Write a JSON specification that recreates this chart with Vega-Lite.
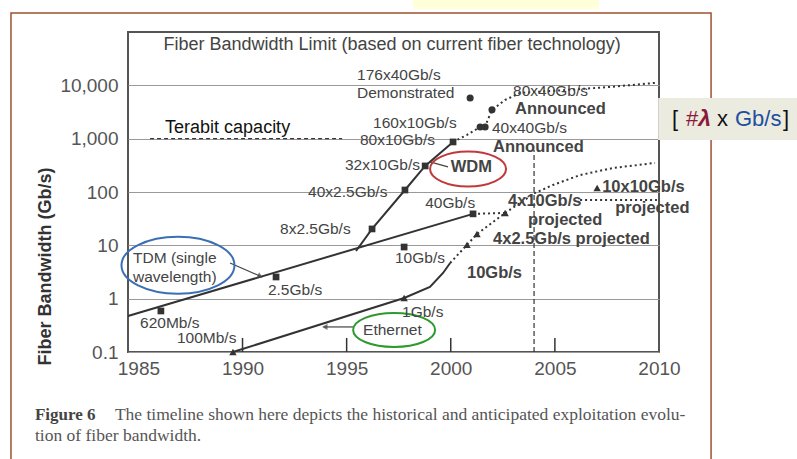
{
  "$schema": "https://vega.github.io/schema/vega-lite/v6.json",
  "width": 531,
  "height": 320,
  "autosize": {"type": "none"},
  "padding": {"left": 128, "top": 32, "right": 138, "bottom": 107},
  "background": "white",
  "config": {
    "view": {"stroke": "#555", "strokeWidth": 2},
    "font": "Liberation Sans"
  },
  "datasets": {
    "frame": [{"year": 1978.88, "year2": 2012.5, "value": 227500, "value2": 0.0005}],
    "yellow": [{"year": 1998.19, "year2": 2007.12, "value": 600000, "value2": 270400}],
    "box": [{"year": 2009.96, "year2": 2017.5, "value": 5800, "value2": 946}],
    "lines": [
      {"series": "tdm", "year": 1984.5, "value": 0.474},
      {"series": "tdm", "year": 2001.07, "value": 38.9},
      {"series": "wdm", "year": 1995.45, "value": 7.84},
      {"series": "wdm", "year": 1996.22, "value": 20.3},
      {"series": "wdm", "year": 1997.8, "value": 109},
      {"series": "wdm", "year": 1998.77, "value": 308},
      {"series": "wdm", "year": 2000.11, "value": 868},
      {"series": "eth", "year": 1989.54, "value": 0.1},
      {"series": "eth", "year": 1997.76, "value": 1.03},
      {"series": "eth", "year": 1999.0, "value": 1.66},
      {"series": "eth", "year": 1999.63, "value": 3.03},
      {"series": "eth", "year": 1999.97, "value": 4.67}
    ],
    "pointers": [
      {"series": "tdm_arrow", "year": 1989.4, "value": 4.67},
      {"series": "tdm_arrow", "year": 1990.94, "value": 2.55},
      {"series": "eth_arrow", "year": 1995.31, "value": 0.295},
      {"series": "eth_arrow", "year": 1993.9, "value": 0.295},
      {"series": "wdm_conn", "year": 1999.0, "value": 366},
      {"series": "wdm_conn", "year": 1999.87, "value": 295}
    ],
    "dotted": [
      {"series": "eth", "year": 1999.97, "value": 4.67},
      {"series": "eth", "year": 2000.78, "value": 10.2},
      {"series": "eth", "year": 2001.26, "value": 16.3},
      {"series": "eth", "year": 2002.61, "value": 40.5},
      {"series": "tdm", "year": 2001.07, "value": 38.9},
      {"series": "tdm", "year": 2002.61, "value": 40.5},
      {"series": "proj", "year": 2002.61, "value": 40.5},
      {"series": "proj", "year": 2003.33, "value": 62.3},
      {"series": "proj", "year": 2004.05, "value": 96},
      {"series": "proj", "year": 2004.91, "value": 135.6},
      {"series": "proj", "year": 2006.21, "value": 208},
      {"series": "proj", "year": 2007.8, "value": 282},
      {"series": "proj", "year": 2009.81, "value": 351},
      {"series": "proj2", "year": 2006.21, "value": 71},
      {"series": "proj2", "year": 2009.9, "value": 71},
      {"series": "wdm", "year": 2000.11, "value": 868},
      {"series": "wdm", "year": 2000.78, "value": 1175},
      {"series": "wdm", "year": 2001.41, "value": 1660},
      {"series": "wdm", "year": 2001.65, "value": 1700},
      {"series": "wdm", "year": 2001.98, "value": 3467},
      {"series": "wdm", "year": 2002.61, "value": 5320},
      {"series": "wdm", "year": 2003.33, "value": 7200},
      {"series": "wdm", "year": 2005.59, "value": 8200},
      {"series": "wdm", "year": 2007.65, "value": 9330},
      {"series": "wdm", "year": 2009.81, "value": 11100}
    ],
    "squares": [
      {"year": 1986.08, "value": 0.588},
      {"year": 1991.61, "value": 2.55},
      {"year": 1997.76, "value": 9.3},
      {"year": 2001.07, "value": 38.9},
      {"year": 1996.22, "value": 20.3},
      {"year": 1997.8, "value": 109},
      {"year": 1998.77, "value": 308},
      {"year": 2000.11, "value": 868}
    ],
    "triangles": [
      {"year": 1989.54, "value": 0.1},
      {"year": 1997.76, "value": 1.03},
      {"year": 2000.78, "value": 10.2},
      {"year": 2001.26, "value": 16.3},
      {"year": 2002.61, "value": 40.5},
      {"year": 2007.03, "value": 119}
    ],
    "circles": [
      {"year": 2000.93, "value": 5800},
      {"year": 2001.41, "value": 1660},
      {"year": 2001.65, "value": 1660},
      {"year": 2001.98, "value": 3467}
    ],
    "ticks": [
      {"year": 1990, "value": 0.1, "value2": 0.183},
      {"year": 1995, "value": 0.1, "value2": 0.183},
      {"year": 2000, "value": 0.1, "value2": 0.183},
      {"year": 2005, "value": 0.1, "value2": 0.183}
    ],
    "vline": [{"year": 2004.0, "value": 0.1, "value2": 614}],
    "terabit": [{"year": 1985.56, "year2": 1994.78, "value": 1000}],
    "labels": [
      {"text": "176x40Gb/s", "year": 1995.5, "value": 15670},
      {"text": "Demonstrated", "year": 1995.5, "value": 7194},
      {"text": "160x10Gb/s", "year": 1996.27, "value": 1971},
      {"text": "80x10Gb/s", "year": 1995.64, "value": 946},
      {"text": "32x10Gb/s", "year": 1994.92, "value": 321},
      {"text": "40x2.5Gb/s", "year": 1993.15, "value": 100},
      {"text": "8x2.5Gb/s", "year": 1991.8, "value": 20.3},
      {"text": "TDM (single", "year": 1984.74, "value": 5.8},
      {"text": "wavelength)", "year": 1984.74, "value": 2.55},
      {"text": "2.5Gb/s", "year": 1991.22, "value": 1.46},
      {"text": "620Mb/s", "year": 1985.08, "value": 0.35},
      {"text": "100Mb/s", "year": 1986.85, "value": 0.183},
      {"text": "10Gb/s", "year": 1997.32, "value": 5.8},
      {"text": "40Gb/s", "year": 1998.77, "value": 62.3},
      {"text": "1Gb/s", "year": 1997.66, "value": 0.563},
      {"text": "Ethernet", "year": 1995.79, "value": 0.259},
      {"text": "80x40Gb/s", "year": 2002.99, "value": 8000},
      {"text": "40x40Gb/s", "year": 2001.98, "value": 1588}
    ],
    "boldlabels": [
      {"text": "WDM", "year": 2000.0, "value": 295},
      {"text": "Announced", "year": 2003.09, "value": 3600},
      {"text": "Announced", "year": 2002.03, "value": 699},
      {"text": "10Gb/s", "year": 2000.78, "value": 3.03},
      {"text": "4x2.5Gb/s projected", "year": 2002.03, "value": 13.2},
      {"text": "4x10Gb/s", "year": 2002.75, "value": 67.9},
      {"text": "projected", "year": 2003.71, "value": 29.9},
      {"text": "10x10Gb/s", "year": 2007.27, "value": 124},
      {"text": "projected", "year": 2007.9, "value": 50.2}
    ],
    "title": [{"text": "Fiber Bandwidth Limit (based on current fiber technology)", "year": 1997.18, "value": 57150}],
    "terabitlabel": [{"text": "Terabit capacity", "year": 1986.28, "value": 1588}],
    "boxtext": [
      {"text": "[", "role": "plain", "year": 2010.63, "value": 2343},
      {"text": "#", "role": "symbol", "year": 2011.3, "value": 2343},
      {"text": "x", "role": "plain", "year": 2012.79, "value": 2343},
      {"text": "Gb/s", "role": "unit", "year": 2013.65, "value": 2343},
      {"text": "]", "role": "plain", "year": 2015.96, "value": 2343}
    ],
    "lambda": [{"text": "λ", "year": 2011.88, "value": 2343}],
    "captionbold": [{"text": "Figure 6", "year": 1980.03, "value": 0.00659}],
    "caption": [
      {"text": "The timeline shown here depicts the historical and anticipated exploitation evolu-", "year": 1983.87, "value": 0.00659},
      {"text": "tion of fiber bandwidth.", "year": 1980.03, "value": 0.00266}
    ],
    "blueell": [{"year": 1986.9, "value": 4.23}],
    "redell": [{"year": 2000.83, "value": 270}],
    "greenell": [{"year": 1997.28, "value": 0.259}],
    "heads": [
      {"year": 1990.85, "value": 2.62, "dir": "tdm"},
      {"year": 1993.95, "value": 0.295, "dir": "eth"}
    ]
  },
  "encoding": {
    "x": {
      "field": "year", "type": "quantitative",
      "scale": {"domain": [1984.5, 2010], "nice": false, "zero": false},
      "axis": {
        "values": [1985, 1990, 1995, 2000, 2005, 2010], "format": "d",
        "labelFontSize": 19, "labelColor": "#555", "labelPadding": 7,
        "ticks": false, "domain": false, "grid": false, "title": null,
        "labelFlush": false, "labelOverlap": false
      }
    },
    "y": {
      "field": "value", "type": "quantitative",
      "scale": {"type": "log", "domain": [0.1, 100000], "nice": false},
      "axis": {
        "values": [0.1, 1, 10, 100, 1000, 10000], "format": ",",
        "labelFontSize": 19, "labelColor": "#555", "labelPadding": 10,
        "ticks": false, "domain": false, "grid": true, "gridColor": "#999", "gridWidth": 1.2,
        "title": "Fiber Bandwidth (Gb/s)", "titleFontSize": 18, "titleFontWeight": "bold",
        "titleColor": "#333", "titleX": -83, "titleY": 234, "titleBaseline": "middle",
        "labelOverlap": false
      }
    }
  },
  "layer": [
    {"data": {"name": "frame"}, "mark": {"type": "rect", "filled": false, "stroke": "#a0522d", "strokeWidth": 1.5},
     "encoding": {"x2": {"field": "year2"}, "y2": {"field": "value2"}}},
    {"data": {"name": "yellow"}, "mark": {"type": "rect", "fill": "#ffffd9"},
     "encoding": {"x2": {"field": "year2"}, "y2": {"field": "value2"}}},
    {"data": {"name": "box"}, "mark": {"type": "rect", "fill": "#ecebe0"},
     "encoding": {"x2": {"field": "year2"}, "y2": {"field": "value2"}}},
    {"data": {"name": "ticks"}, "mark": {"type": "rule", "color": "#333", "strokeWidth": 1.5},
     "encoding": {"y2": {"field": "value2"}}},
    {"data": {"name": "vline"}, "mark": {"type": "rule", "color": "#333", "strokeWidth": 1.2, "strokeDash": [5, 3]},
     "encoding": {"y2": {"field": "value2"}}},
    {"data": {"name": "terabit"}, "mark": {"type": "rule", "color": "#111", "strokeWidth": 1, "strokeDash": [4, 3]},
     "encoding": {"x2": {"field": "year2"}}},
    {"data": {"name": "lines"}, "mark": {"type": "line", "color": "#333", "strokeWidth": 2},
     "encoding": {"detail": {"field": "series"}}},
    {"data": {"name": "pointers"}, "mark": {"type": "line", "color": "#444", "strokeWidth": 1.2},
     "encoding": {"detail": {"field": "series"}}},
    {"data": {"name": "dotted"}, "mark": {"type": "line", "color": "#333", "strokeWidth": 2, "strokeDash": [2, 3]},
     "encoding": {"detail": {"field": "series"}}},
    {"data": {"name": "heads"}, "mark": {"type": "point", "shape": "triangle-left", "filled": true, "color": "#444", "size": 40},
     "encoding": {"angle": {"field": "dir", "type": "nominal", "scale": {"domain": ["tdm", "eth"], "range": [205, 0]}, "legend": null}}},
    {"data": {"name": "squares"}, "mark": {"type": "point", "shape": "square", "filled": true, "color": "#333", "size": 45, "opacity": 1}},
    {"data": {"name": "triangles"}, "mark": {"type": "point", "shape": "triangle-up", "filled": true, "color": "#333", "size": 55, "opacity": 1}},
    {"data": {"name": "circles"}, "mark": {"type": "point", "shape": "circle", "filled": true, "color": "#333", "size": 50, "opacity": 1}},
    {"data": {"name": "blueell"}, "mark": {"type": "point", "shape": "M -1 0 A 1 0.504 0 1 1 1 0 A 1 0.504 0 1 1 -1 0 Z", "size": 12769, "filled": false, "stroke": "#3a6fb5", "strokeWidth": 2, "opacity": 1}},
    {"data": {"name": "redell"}, "mark": {"type": "point", "shape": "M -1 0 A 1 0.46 0 1 1 1 0 A 1 0.46 0 1 1 -1 0 Z", "size": 5776, "filled": false, "stroke": "#c0393b", "strokeWidth": 2, "opacity": 1}},
    {"data": {"name": "greenell"}, "mark": {"type": "point", "shape": "M -1 0 A 1 0.415 0 1 1 1 0 A 1 0.415 0 1 1 -1 0 Z", "size": 6724, "filled": false, "stroke": "#2e9a2e", "strokeWidth": 2, "opacity": 1}},
    {"data": {"name": "labels"}, "mark": {"type": "text", "align": "left", "baseline": "middle", "fontSize": 15.5, "color": "#444"},
     "encoding": {"text": {"field": "text"}}},
    {"data": {"name": "boldlabels"}, "mark": {"type": "text", "align": "left", "baseline": "middle", "fontSize": 16.5, "fontWeight": "bold", "color": "#444"},
     "encoding": {"text": {"field": "text"}}},
    {"data": {"name": "title"}, "mark": {"type": "text", "align": "center", "baseline": "middle", "fontSize": 18, "color": "#444"},
     "encoding": {"text": {"field": "text"}}},
    {"data": {"name": "terabitlabel"}, "mark": {"type": "text", "align": "left", "baseline": "middle", "fontSize": 18, "color": "#111"},
     "encoding": {"text": {"field": "text"}}},
    {"data": {"name": "boxtext"}, "mark": {"type": "text", "align": "left", "baseline": "middle", "fontSize": 22},
     "encoding": {"text": {"field": "text"},
       "color": {"field": "role", "type": "nominal", "scale": {"domain": ["plain", "symbol", "unit"], "range": ["#111111", "#8b1a3a", "#1f4e9e"]}, "legend": null}}},
    {"data": {"name": "lambda"}, "mark": {"type": "text", "align": "left", "baseline": "middle", "fontSize": 23, "fontWeight": "bold", "fontStyle": "italic", "color": "#8b1a3a"},
     "encoding": {"text": {"field": "text"}}},
    {"data": {"name": "captionbold"}, "mark": {"type": "text", "align": "left", "baseline": "middle", "fontSize": 17, "fontWeight": "bold", "font": "Liberation Serif", "color": "#444"},
     "encoding": {"text": {"field": "text"}}},
    {"data": {"name": "caption"}, "mark": {"type": "text", "align": "left", "baseline": "middle", "fontSize": 17.5, "font": "Liberation Serif", "color": "#555"},
     "encoding": {"text": {"field": "text"}}}
  ]
}
